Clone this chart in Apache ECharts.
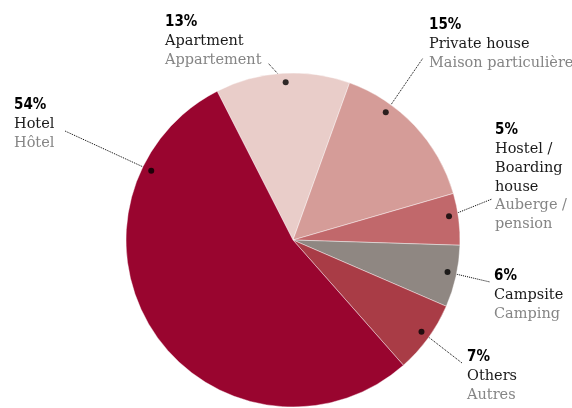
<!DOCTYPE html>
<html><head><meta charset="utf-8">
<script src="https://cdn.jsdelivr.net/npm/echarts@6/dist/echarts.min.js"></script>
<style>html,body{margin:0;padding:0;background:#fff}#c{width:572px;height:408px}</style>
</head><body><div id="c"></div>
<script>
// ---- data ----
const categories = ['Apartment', 'Private house', 'Hostel /\nBoarding\nhouse', 'Campsite', 'Others', 'Hotel'];
const categoriesFr = ['Appartement', 'Maison particulière', 'Auberge /\npension', 'Camping', 'Autres', 'Hôtel'];
const values = [13, 15, 5, 6, 7, 54];
const pctLabels = ['13%', '15%', '5%', '6%', '7%', '54%'];

// ---- layout / style ----
const colors = ['#e9cdc9', '#d59c98', '#c1686b', '#8f8782', '#a93c46', '#99052f'];
const CENTER = [293, 240], RADIUS = 167;
const labelBoxes = [[165, 12], [429, 15], [495, 120], [494, 266], [467, 347], [14, 95]];
const leaderEnds = [[268, 63], [423, 58], [492, 199], [490, 282], [462, 363], [65, 131]];
const anchorFrac = [0.52, 0.30, 0.42, 0.46, 0.48, 0.81];
const anchorR = 0.945;

const total = values.reduce((a, b) => a + b, 0);
let cum = 0;
const anchorData = values.map((v, i) => {
  const a = (cum + v * anchorFrac[i]) / total * 100;
  cum += v;
  return [anchorR, a];
});

const chart = echarts.init(document.getElementById('c'), null, {renderer: 'canvas'});
const serif = "'DejaVu Serif', 'Liberation Serif', serif";
const narrow = "'Liberation Sans Narrow', 'DejaVu Sans Condensed', sans-serif";

function fmt(p) {
  const i = p.dataIndex;
  const lines = ['{p|' + pctLabels[i] + '}'];
  categories[i].split('\n').forEach(s => lines.push('{n|' + s + '}'));
  categoriesFr[i].split('\n').forEach(s => lines.push('{f|' + s + '}'));
  return lines.join('\n');
}

chart.setOption({
  animation: false,
  polar: {center: CENTER, radius: RADIUS},
  angleAxis: {type: 'value', min: 0, max: 100, startAngle: 117, clockwise: true, show: false},
  radiusAxis: {type: 'value', min: 0, max: 1, show: false},
  series: [{
    id: 'pie',
    type: 'pie',
    center: CENTER,
    radius: RADIUS,
    startAngle: 117,
    clockwise: true,
    avoidLabelOverlap: false,
    emphasis: {disabled: true},
    data: values.map((v, i) => ({name: categories[i], value: v, itemStyle: {color: colors[i]}})),
    itemStyle: {borderColor: 'rgba(255,255,255,0.7)', borderWidth: 0.6},
    label: {
      show: true,
      position: 'outside',
      formatter: fmt,
      rich: {
        p: {fontFamily: narrow, fontWeight: 'bold', fontSize: 15, lineHeight: 20, color: '#000'},
        n: {fontFamily: serif, fontSize: 14.5, lineHeight: 18.7, color: '#1a1a1a'},
        f: {fontFamily: serif, fontSize: 14.5, lineHeight: 18.7, color: '#858585'}
      }
    },
    labelLine: {show: true, smooth: false, length: 10, length2: 10,
      lineStyle: {color: '#000', width: 1, type: [1, 1]}}
  }, {
    id: 'dots',
    type: 'scatter',
    coordinateSystem: 'polar',
    symbol: 'circle',
    symbolSize: 6,
    silent: true,
    z: 5,
    itemStyle: {color: '#000'},
    data: anchorData
  }]
});

const anchors = anchorData.map(d => chart.convertToPixel({polarIndex: 0}, d));
chart.setOption({
  series: [{
    id: 'pie',
    labelLayout: function (params) {
      const i = params.dataIndex;
      return {
        x: labelBoxes[i][0], y: labelBoxes[i][1],
        align: 'left', verticalAlign: 'top',
        labelLinePoints: [anchors[i], leaderEnds[i], leaderEnds[i]]
      };
    }
  }]
});
</script></body></html>
